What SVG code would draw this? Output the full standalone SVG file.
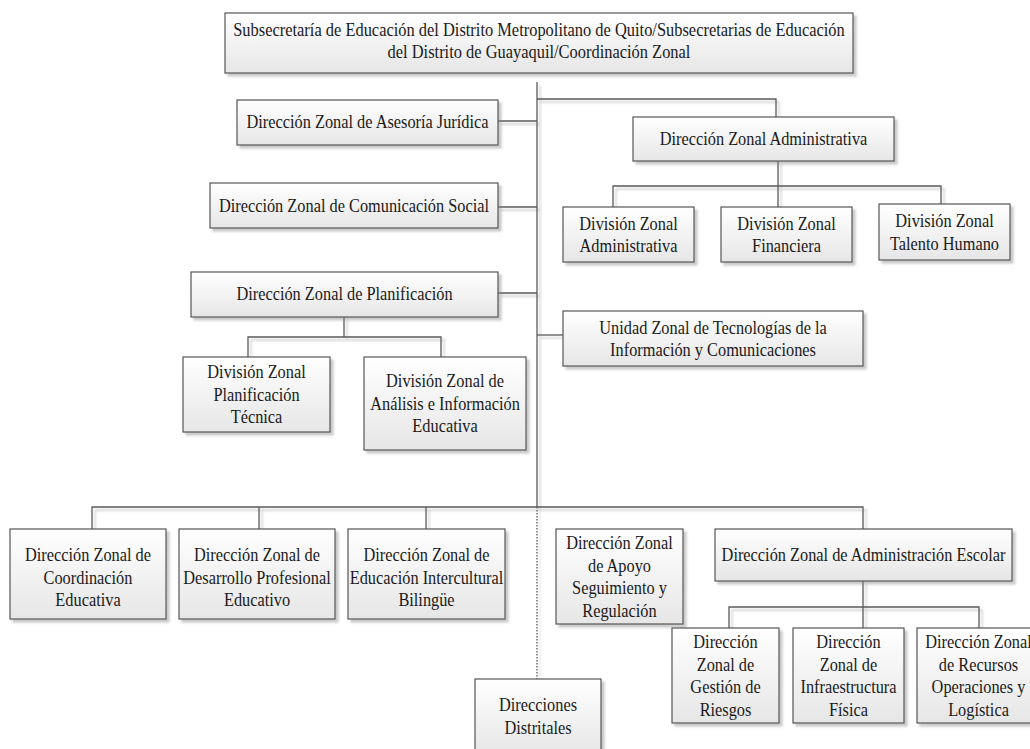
<svg xmlns="http://www.w3.org/2000/svg" width="1030" height="749" viewBox="0 0 1030 749">
<style>
.box{fill:url(#g);stroke:#555;stroke-width:1.2}
.t{font-family:"Liberation Serif","Times New Roman",serif;font-size:19px;fill:#1a1a1a;text-anchor:middle}
.c{fill:none;stroke:#5a5a5a;stroke-width:1.3}
.d{fill:none;stroke:#5a5a5a;stroke-width:1.3;stroke-dasharray:1.5 1.5}
</style>
<defs>
<linearGradient id="g" x1="0" y1="0" x2="0" y2="1">
<stop offset="0" stop-color="#ffffff"/>
<stop offset="1" stop-color="#e6e6e6"/>
</linearGradient>
<filter id="s" x="-10%" y="-10%" width="130%" height="130%">
<feDropShadow dx="3" dy="3" stdDeviation="1" flood-color="#888" flood-opacity="0.45"/>
</filter>
</defs>
<rect width="1030" height="749" fill="#fff"/>
<g id="connectors" filter="url(#s)">
<path class="c" d="M537,82 V507"/>
<path class="d" d="M537,507 V679"/>
<path class="c" d="M537,99 H776 V117"/>
<path class="c" d="M498,121 H537"/>
<path class="c" d="M498,207 H537"/>
<path class="c" d="M498,293 H537"/>
<path class="c" d="M537,335 H563"/>
<path class="c" d="M344,317 V337 M248,357 V337 H441 V357"/>
<path class="c" d="M778,161 V207 M613,207 V186 H941 V204"/>
<path class="c" d="M92,529 V507 H863 V529 M259,507 V529 M426,507 V529"/>
<path class="c" d="M863,581 V628 M729,628 V607 H979 V628"/>
</g>
<g id="n-top"><rect class="box" filter="url(#s)" x="225" y="13" width="628" height="60"/>
<text class="t" transform="matrix(0.865 0 0 1 539 0)"><tspan x="0" y="36.5">Subsecretaría de Educación del Distrito Metropolitano de Quito/Subsecretarias de Educación</tspan><tspan x="0" y="58.5">del Distrito de Guayaquil/Coordinación Zonal</tspan></text></g>
<g id="n-asesoria"><rect class="box" filter="url(#s)" x="237" y="100" width="261" height="45"/>
<text class="t" transform="matrix(0.86 0 0 1 367.5 0)"><tspan x="0" y="128.5">Dirección Zonal de Asesoría Jurídica</tspan></text></g>
<g id="n-comunicacion"><rect class="box" filter="url(#s)" x="210" y="183" width="288" height="45"/>
<text class="t" transform="matrix(0.86 0 0 1 354 0)"><tspan x="0" y="212.5">Dirección Zonal de Comunicación Social</tspan></text></g>
<g id="n-planificacion"><rect class="box" filter="url(#s)" x="191" y="272" width="307" height="45"/>
<text class="t" transform="matrix(0.86 0 0 1 344.5 0)"><tspan x="0" y="300.5">Dirección Zonal de Planificación</tspan></text></g>
<g id="n-plan-tecnica"><rect class="box" filter="url(#s)" x="183" y="357" width="147" height="75"/>
<text class="t" transform="matrix(0.86 0 0 1 256.5 0)"><tspan x="0" y="378.5">División Zonal</tspan><tspan x="0" y="401">Planificación</tspan><tspan x="0" y="423.5">Técnica</tspan></text></g>
<g id="n-plan-analisis"><rect class="box" filter="url(#s)" x="364" y="357" width="162" height="93"/>
<text class="t" transform="matrix(0.86 0 0 1 445 0)"><tspan x="0" y="387.5">División Zonal de</tspan><tspan x="0" y="410">Análisis e Información</tspan><tspan x="0" y="432.5">Educativa</tspan></text></g>
<g id="n-administrativa"><rect class="box" filter="url(#s)" x="633" y="117" width="261" height="44"/>
<text class="t" transform="matrix(0.86 0 0 1 763.5 0)"><tspan x="0" y="145.5">Dirección Zonal Administrativa</tspan></text></g>
<g id="n-div-admin"><rect class="box" filter="url(#s)" x="563" y="207" width="131" height="55"/>
<text class="t" transform="matrix(0.86 0 0 1 628.5 0)"><tspan x="0" y="229.75">División Zonal</tspan><tspan x="0" y="252.25">Administrativa</tspan></text></g>
<g id="n-div-fin"><rect class="box" filter="url(#s)" x="721" y="207" width="131" height="55"/>
<text class="t" transform="matrix(0.86 0 0 1 786.5 0)"><tspan x="0" y="229.75">División Zonal</tspan><tspan x="0" y="252.25">Financiera</tspan></text></g>
<g id="n-div-talento"><rect class="box" filter="url(#s)" x="879" y="204" width="131" height="56"/>
<text class="t" transform="matrix(0.86 0 0 1 944.5 0)"><tspan x="0" y="227.25">División Zonal</tspan><tspan x="0" y="249.75">Talento Humano</tspan></text></g>
<g id="n-tic"><rect class="box" filter="url(#s)" x="563" y="311" width="300" height="55"/>
<text class="t" transform="matrix(0.86 0 0 1 713 0)"><tspan x="0" y="333.75">Unidad Zonal de Tecnologías de la</tspan><tspan x="0" y="356.25">Información y Comunicaciones</tspan></text></g>
<g id="n-coordinacion"><rect class="box" filter="url(#s)" x="10" y="529" width="156" height="90"/>
<text class="t" transform="matrix(0.86 0 0 1 88 0)"><tspan x="0" y="561.5">Dirección Zonal de</tspan><tspan x="0" y="584">Coordinación</tspan><tspan x="0" y="606.5">Educativa</tspan></text></g>
<g id="n-desarrollo"><rect class="box" filter="url(#s)" x="179" y="529" width="156" height="90"/>
<text class="t" transform="matrix(0.86 0 0 1 257 0)"><tspan x="0" y="561.5">Dirección Zonal de</tspan><tspan x="0" y="584">Desarrollo Profesional</tspan><tspan x="0" y="606.5">Educativo</tspan></text></g>
<g id="n-intercultural"><rect class="box" filter="url(#s)" x="348" y="529" width="157" height="90"/>
<text class="t" transform="matrix(0.86 0 0 1 426.5 0)"><tspan x="0" y="561.5">Dirección Zonal de</tspan><tspan x="0" y="584">Educación Intercultural</tspan><tspan x="0" y="606.5">Bilingüe</tspan></text></g>
<g id="n-apoyo"><rect class="box" filter="url(#s)" x="556" y="529" width="127" height="95"/>
<text class="t" transform="matrix(0.86 0 0 1 619.5 0)"><tspan x="0" y="549.25">Dirección Zonal</tspan><tspan x="0" y="571.75">de Apoyo</tspan><tspan x="0" y="594.25">Seguimiento y</tspan><tspan x="0" y="616.75">Regulación</tspan></text></g>
<g id="n-escolar"><rect class="box" filter="url(#s)" x="715" y="529" width="297" height="52"/>
<text class="t" transform="matrix(0.86 0 0 1 863.5 0)"><tspan x="0" y="561.5">Dirección Zonal de Administración Escolar</tspan></text></g>
<g id="n-riesgos"><rect class="box" filter="url(#s)" x="672" y="628" width="107" height="95"/>
<text class="t" transform="matrix(0.86 0 0 1 725.5 0)"><tspan x="0" y="648.25">Dirección</tspan><tspan x="0" y="670.75">Zonal de</tspan><tspan x="0" y="693.25">Gestión de</tspan><tspan x="0" y="715.75">Riesgos</tspan></text></g>
<g id="n-infra"><rect class="box" filter="url(#s)" x="793" y="628" width="111" height="95"/>
<text class="t" transform="matrix(0.86 0 0 1 848.5 0)"><tspan x="0" y="648.25">Dirección</tspan><tspan x="0" y="670.75">Zonal de</tspan><tspan x="0" y="693.25">Infraestructura</tspan><tspan x="0" y="715.75">Física</tspan></text></g>
<g id="n-recursos"><rect class="box" filter="url(#s)" x="917" y="628" width="123" height="95"/>
<text class="t" transform="matrix(0.86 0 0 1 978.5 0)"><tspan x="0" y="648.25">Dirección Zonal</tspan><tspan x="0" y="670.75">de Recursos</tspan><tspan x="0" y="693.25">Operaciones y</tspan><tspan x="0" y="715.75">Logística</tspan></text></g>
<g id="n-distritales"><rect class="box" filter="url(#s)" x="475" y="679" width="126" height="76"/>
<text class="t" transform="matrix(0.86 0 0 1 538 0)"><tspan x="0" y="711.5">Direcciones</tspan><tspan x="0" y="734">Distritales</tspan></text></g>
</svg>
